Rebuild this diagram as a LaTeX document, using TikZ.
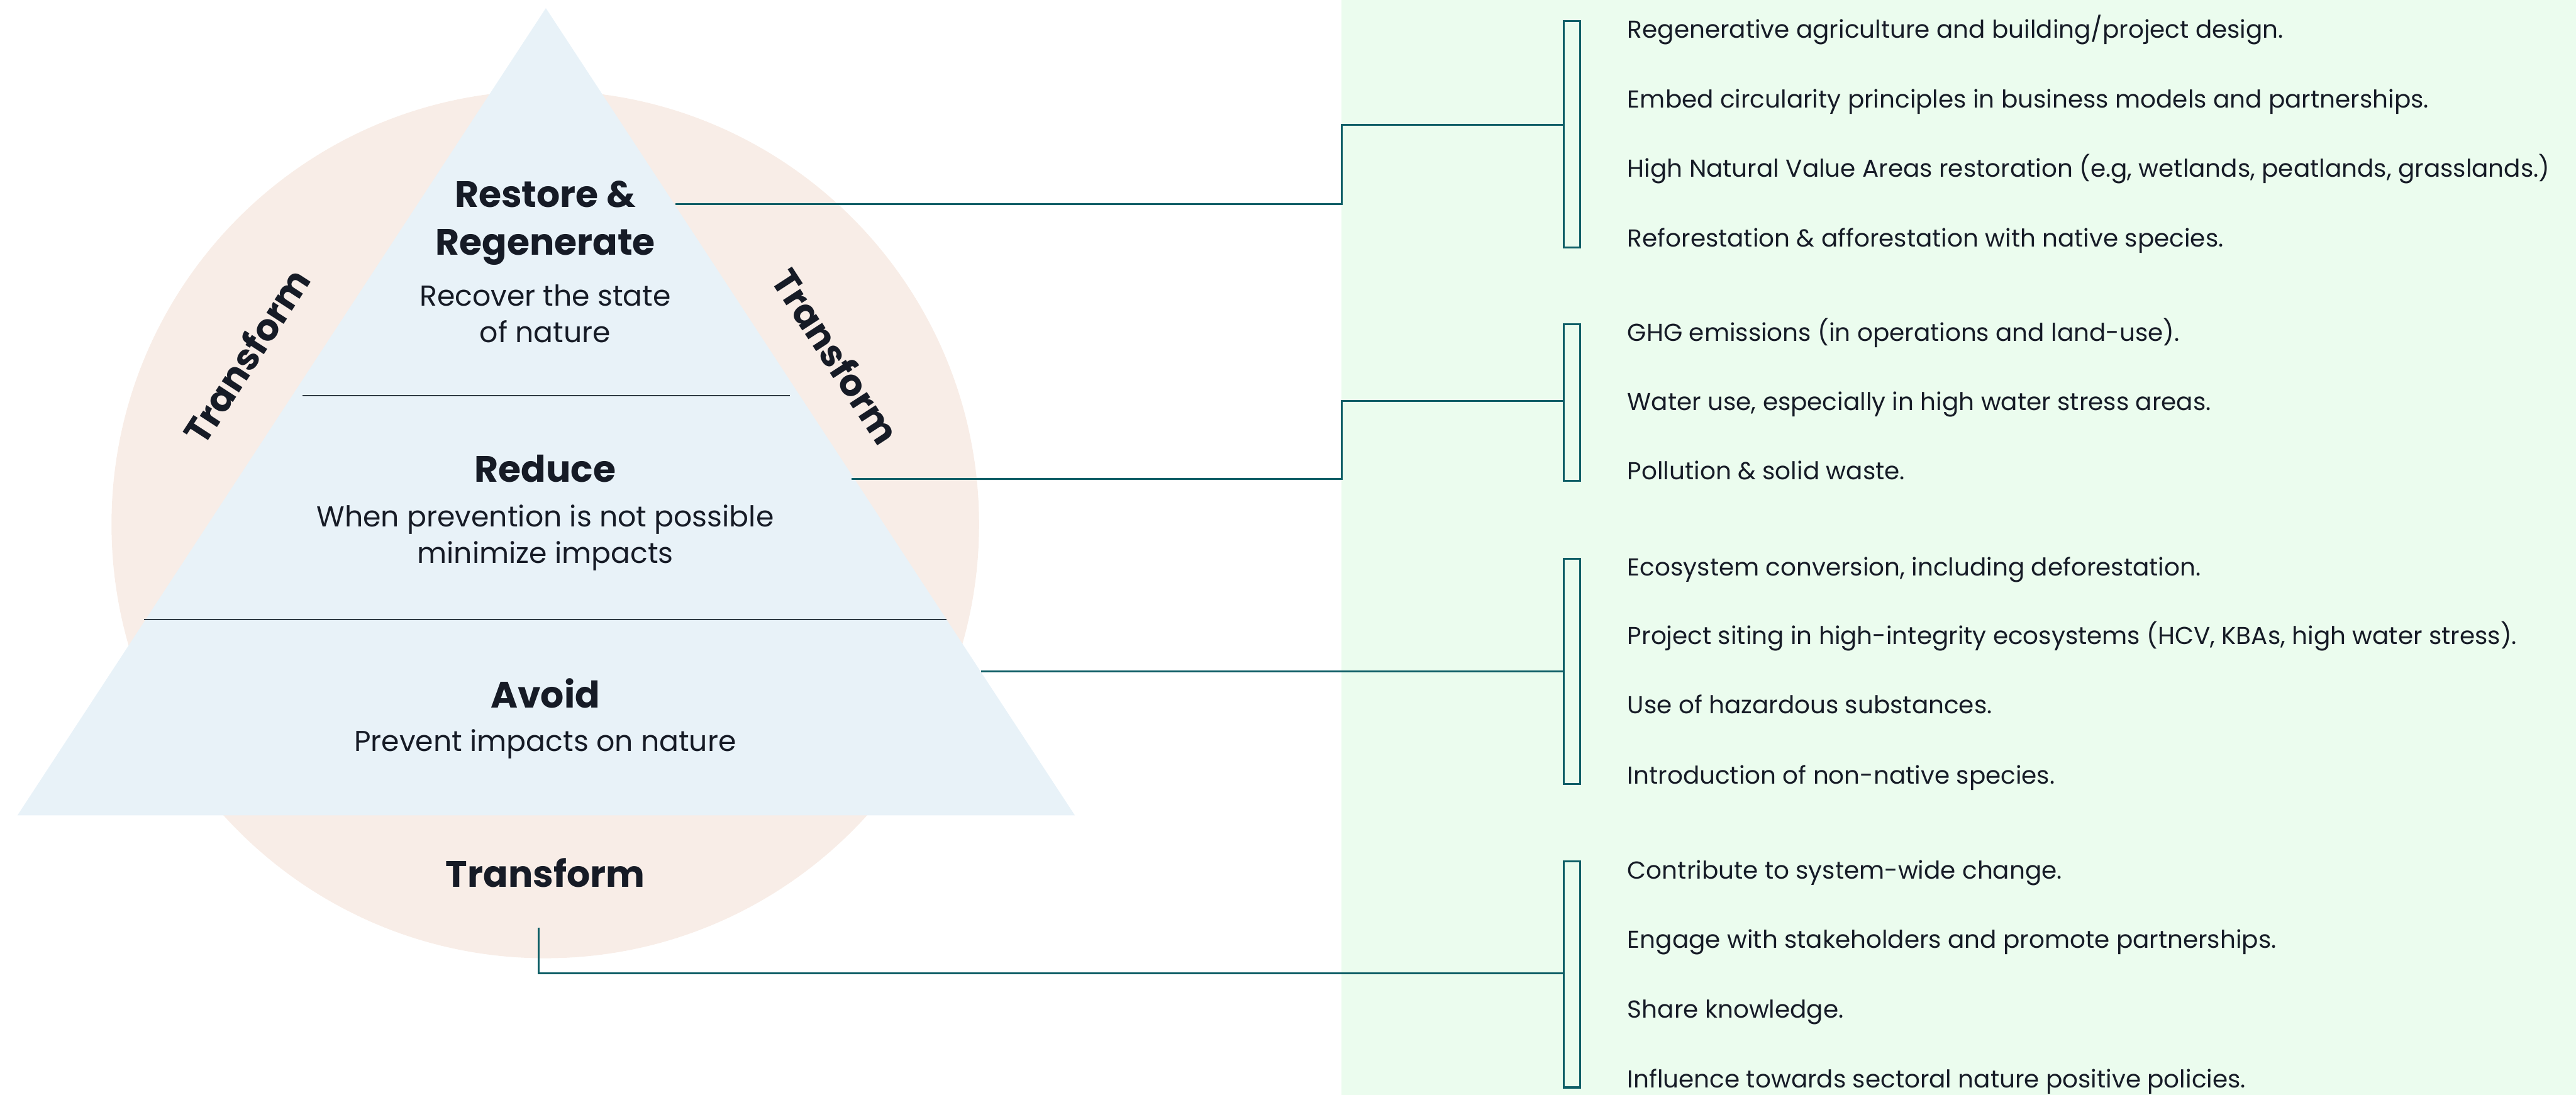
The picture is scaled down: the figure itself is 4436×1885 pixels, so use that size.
\documentclass[tikz,border=0pt]{standalone}
\usepackage{fontspec}
\setmainfont{Poppins}
\usetikzlibrary{positioning}
\definecolor{inkdark}{HTML}{161B26}
\definecolor{teal}{HTML}{0E5E66}
\definecolor{pyrblue}{HTML}{E8F2F8}
\definecolor{ringpeach}{HTML}{F8EDE7}
\definecolor{panelgreen}{HTML}{EBFCEE}
\definecolor{sepline}{HTML}{2F3B44}
\tikzset{
  title/.style={font=\fontsize{18}{23.5}\selectfont\bfseries,text=inkdark,align=center,inner sep=0pt},
  sub/.style={font=\fontsize{14.1}{18}\selectfont,text=inkdark,align=center,inner sep=0pt},
  item/.style={font=\fontsize{12}{14}\selectfont,text=inkdark,anchor=base west,inner sep=0pt},
  link/.style={draw=teal,line width=0.95pt},
  brack/.style={draw=teal,line width=0.95pt,minimum width=2.9mm,inner sep=0pt},
}
\begin{document}
\begin{tikzpicture}[x=0.1mm,y=-0.1mm]
  \useasboundingbox (0,0) rectangle (4436,1885);
  % background panel, ring and pyramid
  \fill[panelgreen] (2310,0) rectangle (4436,1885);
  \fill[ringpeach] (939,903) circle [radius=7.47cm];
  \fill[pyrblue] (940,14) -- (30,1404) -- (1851,1404) -- cycle;
  \draw[sepline,line width=0.5pt] (521,681) -- (1360,681);
  \draw[sepline,line width=0.5pt] (248,1067) -- (1630,1067);

  % pyramid labels
  \node[title] (restore) at (939,384) {Restore \&\\Regenerate};
  \node[sub] (recover) at (939,540) {Recover the state\\of nature};
  \node[title] (reduce) at (939,807) {Reduce};
  \node[sub] (minimize) at (939,926) {When prevention is not possible\\minimize impacts};
  \node[title] (avoid) at (939,1194) {Avoid};
  \node[sub] (prevent) at (939,1281) {Prevent impacts on nature};
  \node[title] (tbottom) at (939,1503) {Transform};
  \node[title,rotate=57] (tleft) at (424,613) {Transform};
  \node[title,rotate=-57] (tright) at (1440,613) {Transform};

  % brackets
  \node[brack,minimum height=3.9cm] (b1) at (2707,231) {};
  \node[brack,minimum height=2.69cm] (b2) at (2707,693) {};
  \node[brack,minimum height=3.88cm] (b3) at (2707,1156) {};
  \node[brack,minimum height=3.89cm] (b4) at (2707,1678) {};

  % connectors
  \coordinate (rs) at (1163,351);
  \coordinate (rd) at (1466,825);
  \coordinate (av) at (1689,1156);
  \coordinate (tf) at (928,1597);
  \draw[link] (rs) -- (2311,351) |- (b1.west |- 0,215);
  \draw[link] (rd) -- (2311,825) |- (b2.west |- 0,690);
  \draw[link] (av) -- (b3.west |- av);
  \draw[link] (tf) |- (b4.west |- 0,1676);

  % items
  \node[item] (i1) at (2802,66) {Regenerative agriculture and building/project design.};
  \node[item] (i2) at (2802,186) {Embed circularity principles in business models and partnerships.};
  \node[item] (i3) at (2802,305) {High Natural Value Areas restoration (e.g, wetlands, peatlands, grasslands.)};
  \node[item] (i4) at (2802,425) {Reforestation \& afforestation with native species.};
  \node[item] (i5) at (2802,587) {GHG emissions (in operations and land-use).};
  \node[item] (i6) at (2802,707) {Water use, especially in high water stress areas.};
  \node[item] (i7) at (2802,826) {Pollution \& solid waste.};
  \node[item] (i8) at (2802,992) {Ecosystem conversion, including deforestation.};
  \node[item] (i9) at (2802,1110) {Project siting in high-integrity ecosystems (HCV, KBAs, high water stress).};
  \node[item] (i10) at (2802,1229) {Use of hazardous substances.};
  \node[item] (i11) at (2802,1350) {Introduction of non-native species.};
  \node[item] (i12) at (2802,1513) {Contribute to system-wide change.};
  \node[item] (i13) at (2802,1633) {Engage with stakeholders and promote partnerships.};
  \node[item] (i14) at (2802,1753) {Share knowledge.};
  \node[item] (i15) at (2802,1873) {Influence towards sectoral nature positive policies.};
\end{tikzpicture}
\end{document}
